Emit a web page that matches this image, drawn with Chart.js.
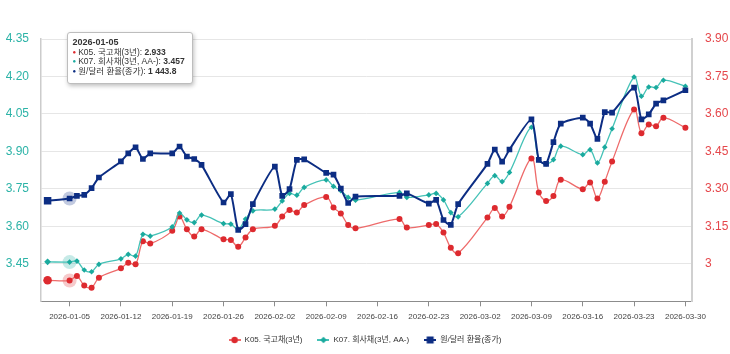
<!DOCTYPE html>
<html>
<head>
<meta charset="utf-8">
<script src="https://cdn.jsdelivr.net/npm/chart.js@4/dist/chart.umd.min.js"></script>
<style>
  body { margin: 0; background: #fff; }
  #wrap { position: relative; width: 730px; height: 354px; }
  #tip {
    position: absolute; background: #fff; border: 1px solid #bdbdbd; border-radius: 3px;
    box-shadow: 1px 2px 4px rgba(0,0,0,0.25); padding: 5px 7px 7px 5px;
    font: 8.5px 'Liberation Sans', 'Noto Sans CJK KR', sans-serif; color: #333; line-height: 9.6px;
    white-space: nowrap;
  }
  #tip b { font-weight: bold; }
  #tip .tit { font-size: 9px; }
  #tip .dot { font-size: 6px; vertical-align: 1px; margin-right: 2px; }
</style>
</head>
<body>
<div id="wrap">
  <canvas id="grafica" width="730" height="354"></canvas>
  <div id="tip"></div>
</div>
<script>
// datos
var fechas = ['2026-01-02','2026-01-05','2026-01-06','2026-01-07','2026-01-08','2026-01-09',
  '2026-01-12','2026-01-13','2026-01-14','2026-01-15','2026-01-16',
  '2026-01-19','2026-01-20','2026-01-21','2026-01-22','2026-01-23',
  '2026-01-26','2026-01-27','2026-01-28','2026-01-29','2026-01-30',
  '2026-02-02','2026-02-03','2026-02-04','2026-02-05','2026-02-06',
  '2026-02-09','2026-02-10','2026-02-11','2026-02-12','2026-02-13',
  '2026-02-19','2026-02-20',
  '2026-02-23','2026-02-24','2026-02-25','2026-02-26','2026-02-27',
  '2026-03-03','2026-03-04','2026-03-05','2026-03-06',
  '2026-03-09','2026-03-10','2026-03-11','2026-03-12','2026-03-13',
  '2026-03-16','2026-03-17','2026-03-18','2026-03-19','2026-03-20',
  '2026-03-23','2026-03-24','2026-03-25','2026-03-26','2026-03-27',
  '2026-03-30'];

var k05 = [2.934,2.933,2.951,2.913,2.904,2.944,
  2.982,3.004,2.998,3.090,3.081,
  3.132,3.189,3.138,3.109,3.138,
  3.098,3.095,3.068,3.105,3.138,
  3.152,3.189,3.215,3.205,3.235,
  3.268,3.225,3.201,3.155,3.142,
  3.179,3.145,
  3.155,3.159,3.125,3.064,3.042,
  3.185,3.223,3.189,3.228,
  3.422,3.286,3.252,3.272,3.337,
  3.299,3.326,3.262,3.329,3.410,
  3.618,3.523,3.558,3.551,3.585,
  3.545];

var k07 = [3.458,3.457,3.461,3.425,3.418,3.448,
  3.470,3.488,3.481,3.568,3.561,
  3.598,3.653,3.626,3.615,3.645,
  3.611,3.609,3.588,3.629,3.662,
  3.669,3.702,3.732,3.725,3.756,
  3.786,3.760,3.743,3.716,3.705,
  3.736,3.716,
  3.726,3.732,3.706,3.655,3.638,
  3.772,3.803,3.779,3.816,
  3.997,3.867,3.850,3.867,3.921,
  3.887,3.907,3.854,3.917,3.991,
  4.198,4.121,4.158,4.156,4.185,
  4.161];

var usdkrw = [1442.5,1443.8,1445.3,1445.9,1449.7,1455.8,
  1465.0,1469.6,1473.1,1466.4,1469.6,
  1469.6,1473.5,1467.8,1466.4,1463.0,
  1441.5,1446.3,1425.8,1429.1,1440.6,
  1462.0,1445.3,1449.2,1465.9,1466.2,
  1458.4,1457.4,1449.5,1441.2,1444.9,
  1445.3,1446.7,
  1440.9,1443.0,1431.5,1428.7,1440.6,
  1463.6,1471.8,1464.9,1471.8,
  1489.0,1465.9,1463.6,1476.0,1486.6,
  1490.0,1486.6,1477.9,1493.2,1492.9,
  1507.2,1489.0,1491.9,1498.0,1499.9,
  1505.7];

var series = ['K05. 국고채(3년)', 'K07. 회사채(3년, AA-)', '원/달러 환율(종가)'];
var colores = ['#dd2a2f', '#1aaa9e', '#0c2d83'];
var coloresLinea = ['#ee6b6b', '#45c2b7', '#0c2d83'];

var ticksFechas = ['2026-01-05','2026-01-12','2026-01-19','2026-01-26','2026-02-02','2026-02-09',
  '2026-02-16','2026-02-23','2026-03-02','2026-03-09','2026-03-16','2026-03-23','2026-03-30'];
var ticksIzq = [3.30, 3.45, 3.60, 3.75, 3.90, 4.05, 4.20, 4.35];
var ticksDer = [2.85, 3.00, 3.15, 3.30, 3.45, 3.60, 3.75, 3.90];
var fechaActiva = '2026-01-05';

// dias desde 2026-01-01
function dia(s) {
  var p = s.split('-');
  return (Date.UTC(+p[0], +p[1] - 1, +p[2]) - Date.UTC(2026, 0, 1)) / 86400000;
}
function etiquetaDia(n) {
  var d = new Date(Date.UTC(2026, 0, 1) + Math.round(n) * 86400000);
  return d.toISOString().slice(0, 10);
}
function puntos(valores) {
  return fechas.map(function (f, i) { return { x: dia(f), y: valores[i] }; });
}
function radios(primero, resto) {
  return fechas.map(function (f, i) { return i === 0 ? primero : resto; });
}

// iconos de la leyenda: linea + marcador
function icono(i, estilo) {
  var c = document.createElement('canvas');
  c.width = 12; c.height = 8;
  var g = c.getContext('2d');
  g.strokeStyle = coloresLinea[i]; g.lineWidth = 2;
  g.beginPath(); g.moveTo(0, 4); g.lineTo(12, 4); g.stroke();
  g.fillStyle = colores[i];
  g.beginPath();
  if (estilo === 'circle') g.arc(6, 4, 3.2, 0, Math.PI * 2);
  if (estilo === 'rectRot') { g.moveTo(6, 0.8); g.lineTo(9.2, 4); g.lineTo(6, 7.2); g.lineTo(2.8, 4); g.closePath(); }
  if (estilo === 'rect') g.rect(2.5, 0.5, 7, 7);
  g.fill();
  return c;
}
var iconos = [icono(0, 'circle'), icono(1, 'rectRot'), icono(2, 'rect')];

var fuente = "'Liberation Sans', 'Noto Sans CJK KR', sans-serif";
var idxActivo = fechas.indexOf(fechaActiva);

// halos del punto activo
var halo = {
  id: 'halo',
  beforeDatasetsDraw: function (chart) {
    var ctx = chart.ctx;
    chart.data.datasets.forEach(function (ds, i) {
      var el = chart.getDatasetMeta(i).data[idxActivo];
      ctx.save();
      ctx.globalAlpha = 0.25;
      ctx.fillStyle = colores[i];
      ctx.beginPath();
      ctx.arc(el.x, el.y, 7, 0, Math.PI * 2);
      ctx.fill();
      ctx.restore();
    });
  }
};

var ctx = document.getElementById('grafica').getContext('2d');
var grafica = new Chart(ctx, {
  type: 'line',
  data: {
    datasets: [{
      label: series[0],
      data: puntos(k05),
      yAxisID: 'y1',
      borderColor: coloresLinea[0],
      backgroundColor: colores[0],
      borderWidth: 1.3,
      pointStyle: 'circle',
      pointRadius: radios(4.3, 3),
      pointBorderWidth: 0,
      tension: 0.35,
      order: 2
    }, {
      label: series[1],
      data: puntos(k07),
      yAxisID: 'y',
      borderColor: coloresLinea[1],
      backgroundColor: colores[1],
      borderWidth: 1.3,
      pointStyle: 'rectRot',
      pointRadius: radios(3.4, 2.8),
      pointBorderWidth: 0,
      tension: 0.35,
      order: 1
    }, {
      label: series[2],
      data: puntos(usdkrw),
      yAxisID: 'y2',
      borderColor: coloresLinea[2],
      backgroundColor: colores[2],
      borderWidth: 2,
      pointStyle: 'rect',
      pointRadius: radios(5.3, 4),
      pointBorderWidth: 0,
      tension: 0.2,
      order: 0
    }]
  },
  options: {
    responsive: false,
    animation: false,
    devicePixelRatio: 1,
    events: [],
    layout: { padding: { top: 39, left: 0, right: 0, bottom: 0 } },
    plugins: {
      tooltip: { enabled: false },
      legend: {
        position: 'bottom',
        labels: {
          usePointStyle: true,
          pointStyleWidth: 12,
          padding: 15,
          color: '#333',
          font: { family: fuente, size: 8 },
          sort: function (a, b) { return a.datasetIndex - b.datasetIndex; },
          generateLabels: function (chart) {
            var items = Chart.defaults.plugins.legend.labels.generateLabels(chart);
            items.forEach(function (it) { it.pointStyle = iconos[it.datasetIndex]; });
            return items;
          }
        }
      }
    },
    scales: {
      x: {
        type: 'linear',
        min: 0.1,
        max: 88.9,
        afterBuildTicks: function (s) { s.ticks = ticksFechas.map(function (f) { return { value: dia(f) }; }); },
        afterFit: function (s) { s.height = 19.7; },
        ticks: {
          color: '#444',
          padding: 6,
          maxRotation: 0,
          autoSkip: false,
          font: { family: fuente, size: 8 },
          callback: function (v) { return etiquetaDia(v); }
        },
        grid: { drawOnChartArea: false, drawTicks: true, tickLength: 5, color: '#8c8c8c' },
        border: { color: '#8c8c8c', width: 1 }
      },
      y: {
        position: 'left',
        min: 3.30,
        max: 4.35,
        afterBuildTicks: function (s) { s.ticks = ticksIzq.map(function (v) { return { value: v }; }); },
        afterFit: function (s) { s.width = 41; },
        ticks: {
          color: '#2cb3a7',
          padding: 12,
          font: { family: fuente, size: 12 },
          callback: function (v, i) { return i === 0 ? '' : v.toFixed(2); }
        },
        grid: { color: '#e6e6e6', drawTicks: false },
        border: { color: '#cccccc', width: 1.5 }
      },
      y1: {
        position: 'right',
        min: 2.85,
        max: 3.90,
        afterBuildTicks: function (s) { s.ticks = ticksDer.map(function (v) { return { value: v }; }); },
        afterFit: function (s) { s.width = 38; },
        ticks: {
          color: '#e5474b',
          padding: 13,
          font: { family: fuente, size: 12 },
          callback: function (v, i) {
            if (i === 0) return '';
            var r = Math.round(v * 100) / 100;
            return r % 1 === 0 ? String(r) : r.toFixed(2);
          }
        },
        grid: { drawOnChartArea: false, drawTicks: false },
        border: { color: '#d0d0d0', width: 2 }
      },
      y2: {
        display: false,
        min: 1385,
        max: 1535
      }
    }
  },
  plugins: [halo]
});

// tooltip fijo en la fecha activa
function miles(v) {
  var p = v.toFixed(1).split('.');
  return p[0].replace(/\B(?=(\d{3})+(?!\d))/g, ' ') + '.' + p[1];
}
var valoresTip = [k05[idxActivo].toFixed(3), k07[idxActivo].toFixed(3), miles(usdkrw[idxActivo])];
var tip = document.getElementById('tip');
var html = '<b class="tit">' + fechaActiva + '</b>';
series.forEach(function (s, i) {
  html += '<br><span class="dot" style="color:' + colores[i] + '">●</span>' + s + ': <b>' + valoresTip[i] + '</b>';
});
tip.innerHTML = html;
var px = grafica.scales.x.getPixelForValue(dia(fechaActiva));
tip.style.left = (px - 3) + 'px';
tip.style.top = (grafica.chartArea.top - 7) + 'px';
</script>
</body>
</html>
